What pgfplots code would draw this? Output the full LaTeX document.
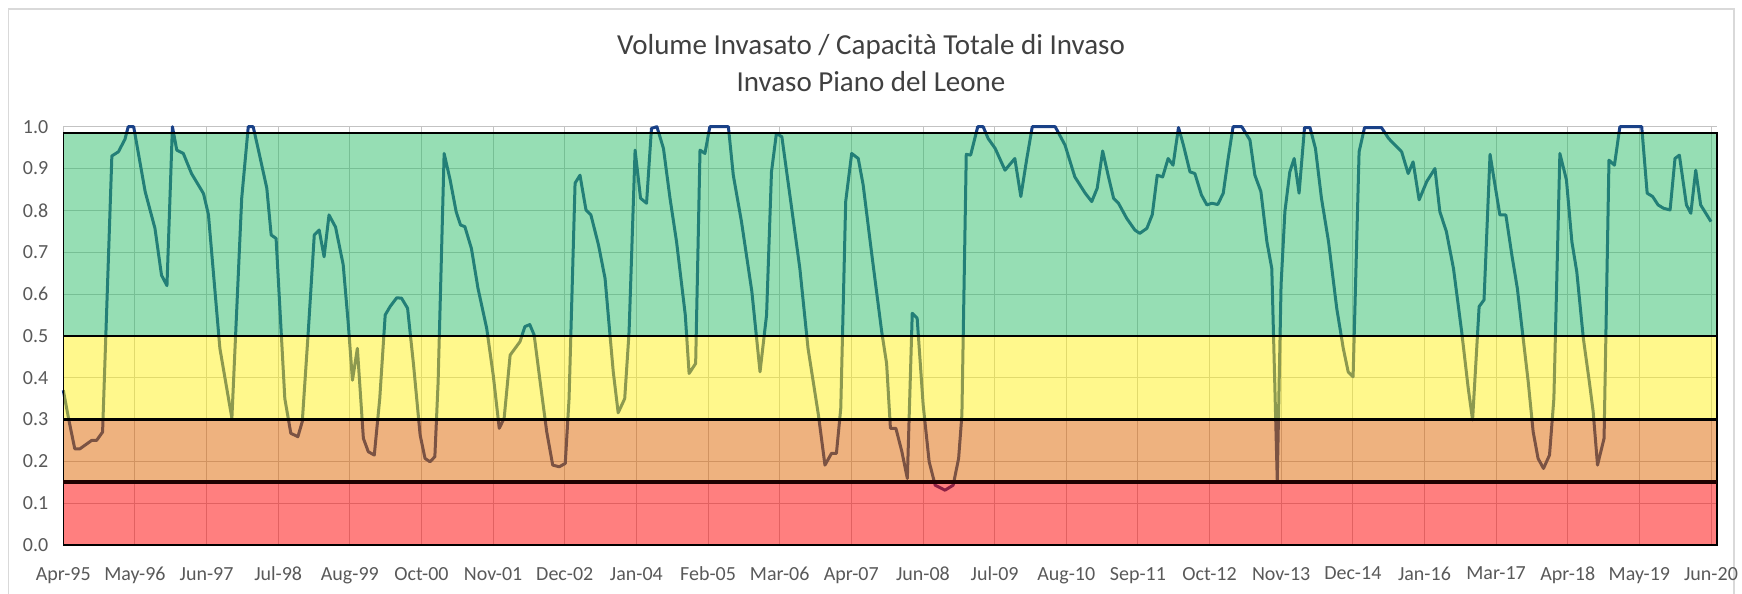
\documentclass[border=0pt]{standalone}
\usepackage{fontspec}
\setmainfont{Carlito}
\usepackage{pgfplots}
\pgfplotsset{compat=1.18}
\definecolor{serie}{RGB}{25,65,135}
\definecolor{verde}{RGB}{45,189,105}
\definecolor{giallo}{RGB}{255,241,25}
\definecolor{arancio}{RGB}{221,101,0}
\definecolor{rosso}{RGB}{255,0,0}
\definecolor{testo}{RGB}{89,89,89}
\definecolor{titolo}{RGB}{64,64,64}
\definecolor{griglia}{RGB}{195,195,195}
\definecolor{cornice}{RGB}{217,217,217}

\begin{document}
\begin{tikzpicture}
\useasboundingbox (0,0) rectangle (871pt,297pt);
\draw[cornice, line width=0.8pt] (4.2pt,0pt) -- (4.2pt,292.4pt) -- (867pt,292.4pt) -- (867pt,0pt);
\begin{axis}[
  at={(31.65pt,24.5pt)}, anchor=south west,
  scale only axis, width=826.85pt, height=209.15pt,
  xmin=0, xmax=303.1, ymin=0, ymax=1,
  clip=false,
  axis line style={draw=none},
  major tick length=0pt,
  xtick={0,13.13,26.26,39.39,52.52,65.65,78.78,91.91,105.04,118.17,131.30,144.43,157.57,170.70,183.83,196.96,210.09,223.22,236.35,249.48,262.61,275.74,288.87,302},
  xticklabels={Apr-95,May-96,Jun-97,Jul-98,Aug-99,Oct-00,Nov-01,Dec-02,Jan-04,Feb-05,Mar-06,Apr-07,Jun-08,Jul-09,Aug-10,Sep-11,Oct-12,Nov-13,Dec-14,Jan-16,Mar-17,Apr-18,May-19,Jun-20},
  ytick={0,0.1,0.2,0.3,0.4,0.5,0.6,0.7,0.8,0.9,1.0},
  yticklabel style={/pgf/number format/fixed, /pgf/number format/fixed zerofill, /pgf/number format/precision=1, xshift=-4pt},
  /pgf/number format/assume math mode=true,
  tick label style={font=\fontsize{10}{12}\selectfont, text=testo},
  xticklabel style={yshift=-7.5pt},
  grid=major, major grid style={griglia, line width=0.5pt},
]
% volume invasato / capacita' totale
\addplot[serie, line width=1.5pt, line join=round] coordinates {
(0,0.37) (1,0.30) (2.1,0.23) (3.05,0.23) (5.2,0.25) (6.1,0.25) (7.2,0.27) (8.9,0.93)
(10.1,0.94) (11.3,0.97) (11.9,1.0) (12.9,1.0) (15,0.845) (16.8,0.757) (18,0.645) (19,0.62)
(20,1.0) (20.8,0.944) (22,0.936) (23.5,0.888) (25.7,0.84) (26.6,0.79) (28.7,0.47) (30.9,0.303)
(32.7,0.829) (33.9,1.0) (34.8,1.0) (35.7,0.948) (37.3,0.853) (38.1,0.741) (39,0.733) (40.6,0.35)
(41.7,0.267) (43,0.259) (43.8,0.295) (44.9,0.51) (46,0.741) (46.9,0.753) (47.8,0.689) (48.7,0.789)
(49.9,0.76) (51.3,0.67) (52.2,0.534) (53,0.394) (53.9,0.47) (55,0.255) (55.9,0.223) (57,0.215)
(58,0.35) (59,0.55) (59.9,0.57) (61.1,0.591) (62,0.59) (63.1,0.566) (64.2,0.43) (65.4,0.263)
(66.3,0.207) (67.2,0.199) (68.1,0.211) (68.7,0.39) (69.8,0.936) (70.9,0.873) (72,0.797) (72.8,0.765)
(73.6,0.761) (74.8,0.709) (76,0.614) (77.6,0.518) (78.8,0.406) (79.9,0.279) (80.8,0.303) (81.9,0.454)
(82.8,0.47) (83.7,0.486) (84.6,0.522) (85.5,0.527) (86.3,0.502) (87.4,0.39) (88.6,0.271) (89.7,0.191)
(90.9,0.187) (92,0.195) (92.7,0.35) (93.8,0.865) (94.7,0.884) (95.8,0.801) (96.7,0.789) (98.1,0.717)
(99.3,0.637) (100.2,0.502) (100.8,0.414) (101.7,0.316) (102.9,0.35) (103.7,0.51) (104.8,0.944) (105.8,0.829)
(106.9,0.817) (107.8,0.996) (108.8,1.0) (110,0.948) (111.2,0.829) (112.4,0.725) (114,0.55) (114.7,0.41)
(115.9,0.434) (116.7,0.944) (117.6,0.936) (118.5,1.0) (121.9,1.0) (122.8,0.884) (124.3,0.773) (126.2,0.606)
(127.7,0.414) (128.9,0.55) (129.8,0.892) (130.7,0.984) (131.7,0.976) (133.5,0.805) (135,0.661) (136.5,0.47)
(138.4,0.311) (139.6,0.191) (140.8,0.219) (141.7,0.219) (142.5,0.327) (143.4,0.821) (144.5,0.936) (145.7,0.924)
(146.6,0.861) (148.2,0.693) (150,0.51) (150.9,0.434) (151.6,0.279) (152.6,0.279) (153.7,0.223) (154.7,0.159)
(155.6,0.554) (156.5,0.542) (157.6,0.335) (158.7,0.199) (159.8,0.143) (161.6,0.131) (163.1,0.143) (164.1,0.207)
(164.7,0.311) (165.5,0.934) (166.3,0.932) (167.6,1.0) (168.6,1.0) (169.5,0.972) (170.8,0.948) (172.6,0.896)
(174.4,0.924) (175.5,0.833) (176.6,0.924) (177.6,1.0) (181.8,1.0) (183.6,0.956) (185.4,0.88) (187.3,0.841)
(188.5,0.821) (189.5,0.853) (190.5,0.942) (191.5,0.884) (192.5,0.829) (193.4,0.817) (194.9,0.781) (196.4,0.753)
(197.3,0.745) (198.6,0.757) (199.6,0.79) (200.5,0.884) (201.5,0.88) (202.5,0.924) (203.4,0.908) (204.4,0.998)
(205.3,0.956) (206.5,0.892) (207.4,0.888) (208.6,0.837) (209.6,0.813) (210.5,0.817) (211.6,0.814) (212.6,0.841)
(213.5,0.924) (214.4,1.0) (216,1.0) (217.5,0.968) (218.4,0.884) (219.5,0.845) (220.6,0.725) (221.5,0.661)
(222.5,0.155) (223.2,0.622) (223.9,0.797) (224.8,0.892) (225.6,0.924) (226.5,0.841) (227.5,0.998) (228.5,0.998)
(229.5,0.948) (230.6,0.829) (231.9,0.725) (233.4,0.566) (234.6,0.47) (235.5,0.414) (236.4,0.402) (237.5,0.94)
(238.5,0.998) (241.6,0.998) (242.9,0.972) (244.1,0.956) (245.3,0.94) (246.5,0.888) (247.4,0.916) (248.5,0.825)
(249.9,0.869) (251.4,0.9) (252.3,0.797) (253.5,0.749) (254.8,0.661) (256.3,0.51) (257.5,0.375) (258.3,0.299)
(259.5,0.57) (260.4,0.586) (261.5,0.934) (262.4,0.861) (263.3,0.789) (264.4,0.789) (265.5,0.693) (266.5,0.614)
(267.5,0.502) (268.5,0.39) (269.4,0.271) (270.3,0.207) (271.3,0.183) (272.4,0.215) (273.2,0.35) (274.3,0.936)
(275.5,0.873) (276.5,0.725) (277.4,0.653) (278.6,0.494) (279.7,0.39) (280.4,0.319) (281.2,0.191) (282.4,0.255)
(283.3,0.92) (284.3,0.908) (285.3,1.0) (289.3,1.0) (290.3,0.841) (291.3,0.833) (292.3,0.813) (293.3,0.805)
(294.5,0.801) (295.4,0.924) (296.2,0.932) (297.5,0.813) (298.3,0.793) (299.2,0.896) (300.1,0.813) (302,0.773)
};
% fasce di stato (sopra la serie, semitrasparenti)
\addplot[fill=rosso, fill opacity=0.5, draw=black, line width=0.7pt] coordinates {(0,0) (303.1,0) (303.1,0.15) (0,0.15)} -- cycle;
\addplot[fill=arancio, fill opacity=0.5, draw=black, line width=0.7pt] coordinates {(0,0.15) (303.1,0.15) (303.1,0.3) (0,0.3)} -- cycle;
\addplot[fill=giallo, fill opacity=0.5, draw=black, line width=0.7pt] coordinates {(0,0.3) (303.1,0.3) (303.1,0.5) (0,0.5)} -- cycle;
\addplot[fill=verde, fill opacity=0.5, draw=black, line width=0.7pt] coordinates {(0,0.5) (303.1,0.5) (303.1,0.985) (0,0.985)} -- cycle;
\addplot[black, line width=1.4pt] coordinates {(0,0.3) (303.1,0.3)};
\addplot[black!80!red!60!black, line width=2pt] coordinates {(0,0.15) (303.1,0.15)};
\end{axis}
\node[font=\fontsize{14.5}{17}\selectfont, text=titolo] at (435.5pt,273.7pt) {Volume Invasato / Capacità Totale di Invaso};
\node[font=\fontsize{14.5}{17}\selectfont, text=titolo] at (435.5pt,256.2pt) {Invaso Piano del Leone};
\end{tikzpicture}
\end{document}
